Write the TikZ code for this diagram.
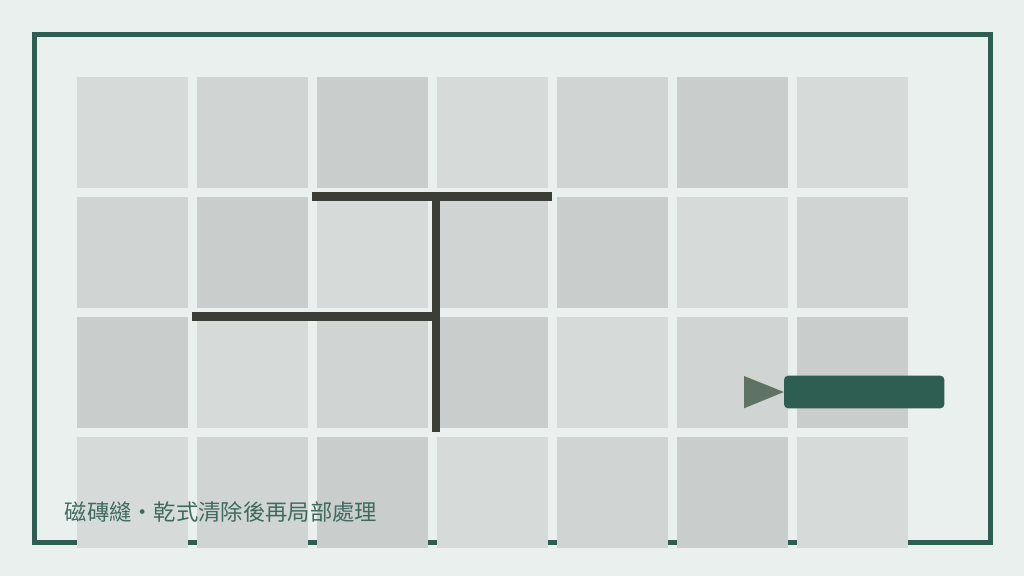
\documentclass[tikz,border=0pt]{standalone}
\usepackage{fontspec}
\usepackage{tikz}
\newfontfamily\cjk{Noto Sans CJK TC}
\definecolor{bg}{HTML}{EAF0EE}
\definecolor{frame}{HTML}{2E5E52}
\definecolor{tile0}{HTML}{D6DAD9}
\definecolor{tile1}{HTML}{D0D4D3}
\definecolor{tile2}{HTML}{C9CDCC}
\definecolor{crack}{HTML}{3B3E37}
\definecolor{marker}{HTML}{5E7363}
\definecolor{caption}{HTML}{3F6B5F}
\tikzset{
  tile/.style={inner sep=0pt, minimum size=111.3pt},
  seam/.style={draw=crack, line width=8.5pt},
}

\begin{document}
\begin{tikzpicture}[x=1pt,y=-1pt]
  \fill[bg] (0,0) rectangle (1024,576);
  \useasboundingbox (0,0) rectangle (1024,576);
  \draw[frame, line width=4.7pt] (34.3,34.3) rectangle (990.3,542.2);
  % tiles
  \foreach \r in {0,...,3}
    \foreach \c in {0,...,6} {
      \pgfmathtruncatemacro\k{mod(\r+\c,3)}
      \node[tile, fill=tile\k] (m-\r-\c) at ({132.35+120*\c},{132.35+120*\r}) {};
    }
  % cracks
  \draw[seam] (312,196.3) -- (552.3,196.3);
  \draw[seam] (436.2,192) -- (436.2,432.3);
  \draw[seam] (192,316.3) -- (440.4,316.3);
  % marker
  \node[fill=frame, rounded corners=4pt, minimum width=160.3pt, minimum height=32.6pt, inner sep=0pt] (bar) at (864.2,392) {};
  \fill[marker] (744,376) -- (bar.west) -- (744,408.3) -- cycle;
  \node[anchor=west, text=caption, inner sep=0pt, font=\cjk\fontsize{22.3}{22.3}\selectfont] (label) at (64.5,512.5) {磁磚縫·乾式清除後再局部處理};
\end{tikzpicture}
\end{document}
